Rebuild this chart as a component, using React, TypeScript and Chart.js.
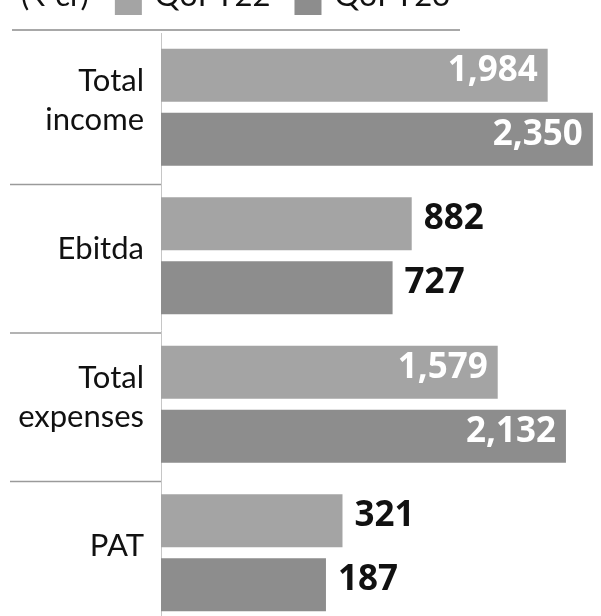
import React, { useEffect, useRef } from "react";
import { Chart, registerables } from "chart.js";

Chart.register(...registerables);

const categories: (string | string[])[] = [["Total", "income"], "Ebitda", ["Total", "expenses"], "PAT"];
const seriesNames = ["Q3FY22", "Q3FY23"];
const q3fy22 = [1984, 882, 1579, 321];
const q3fy23 = [2350, 727, 2132, 187];
const unitLabel = "(₹ cr)";

const X_MIN = -1150;
const X_MAX = 2408;
const COLORS = ["#a4a4a4", "#8d8d8d"];
const CANVAS_W = 601;
const CANVAS_H = 640;

const fmt = (v: number) => v.toLocaleString("en-US");

const decorPlugin = {
  id: "decor",
  afterDatasetsDraw(chart: any) {
    const ctx = chart.ctx;
    const y = chart.scales.y;
    const area = chart.chartArea;
    ctx.save();
    // value labels
    ctx.font = "bold 35px 'Noto Sans'";
    ctx.textBaseline = "alphabetic";
    chart.data.datasets.forEach((ds: any, di: number) => {
      const meta = chart.getDatasetMeta(di);
      meta.data.forEach((bar: any, i: number) => {
        const v = ds.data[i];
        const by = bar.y + 5.5;
        if (v >= 1000) {
          ctx.fillStyle = "#ffffff";
          ctx.textAlign = "right";
          ctx.fillText(fmt(v), bar.x - 10, by);
        } else {
          ctx.fillStyle = "#111111";
          ctx.textAlign = "left";
          ctx.fillText(fmt(v), bar.x + 12, by);
        }
      });
    });
    // separators
    ctx.strokeStyle = "#9a9a9a";
    ctx.lineWidth = 1.5;
    const n = chart.data.labels.length;
    for (let i = 0; i < n - 1; i++) {
      const ym = (y.getPixelForValue(i) + y.getPixelForValue(i + 1)) / 2 + 3;
      ctx.beginPath();
      ctx.moveTo(10, ym);
      ctx.lineTo(area.left, ym);
      ctx.stroke();
    }
    // top rule
    ctx.strokeStyle = "#a8a8a8";
    ctx.lineWidth = 2;
    ctx.beginPath();
    ctx.moveTo(12, area.top - 3);
    ctx.lineTo(460, area.top - 3);
    ctx.stroke();
    // legend
    ctx.font = "31px Lato";
    ctx.fillStyle = "#111111";
    ctx.textAlign = "left";
    let x = 21;
    const base = 6;
    ctx.fillText(unitLabel, x, base);
    x += ctx.measureText(unitLabel).width + 26;
    chart.data.datasets.forEach((ds: any) => {
      ctx.fillStyle = ds.backgroundColor;
      ctx.fillRect(x, -12, 27, 27);
      x += 27 + 13;
      ctx.fillStyle = "#111111";
      ctx.fillText(ds.label, x, base);
      x += ctx.measureText(ds.label).width + 24;
    });
    ctx.restore();
  },
};

export default function App() {
  const ref = useRef<HTMLCanvasElement | null>(null);
  useEffect(() => {
    if (!ref.current) return;
    const chart = new Chart(ref.current, {
      type: "bar",
      data: {
        labels: categories,
        datasets: [
          { label: seriesNames[0], data: q3fy22, backgroundColor: COLORS[0], base: X_MIN, categoryPercentage: 0.86, barPercentage: 0.83 } as any,
          { label: seriesNames[1], data: q3fy23, backgroundColor: COLORS[1], base: X_MIN, categoryPercentage: 0.86, barPercentage: 0.83 } as any,
        ],
      },
      options: {
        indexAxis: "y",
        responsive: false,
        maintainAspectRatio: false,
        animation: false,
        devicePixelRatio: 1,
        layout: { padding: { top: 33, bottom: 13, left: 0, right: 1 } },
        plugins: { legend: { display: false }, tooltip: { enabled: false } },
        scales: {
          x: { type: "linear", min: X_MIN, max: X_MAX, display: false },
          y: {
            grid: { display: false },
            border: { display: true, color: "#c6c6c6", width: 1 },
            ticks: { color: "#111111", padding: 9, labelOffset: -7, font: { family: "Lato", size: 31, lineHeight: 1.25 } },
            afterFit: (s: any) => {
              s.width = 161;
              s.paddingTop = 0;
              s.paddingBottom = 0;
            },
          },
        },
      },
      plugins: [decorPlugin],
    } as any);
    return () => chart.destroy();
  }, []);
  return (
    <div style={{ position: "fixed", top: 0, left: 0, width: CANVAS_W, height: 616, overflow: "hidden", background: "#fff" }}>
      <canvas ref={ref} width={CANVAS_W} height={CANVAS_H} style={{ display: "block", width: CANVAS_W, height: CANVAS_H }} />
    </div>
  );
}
